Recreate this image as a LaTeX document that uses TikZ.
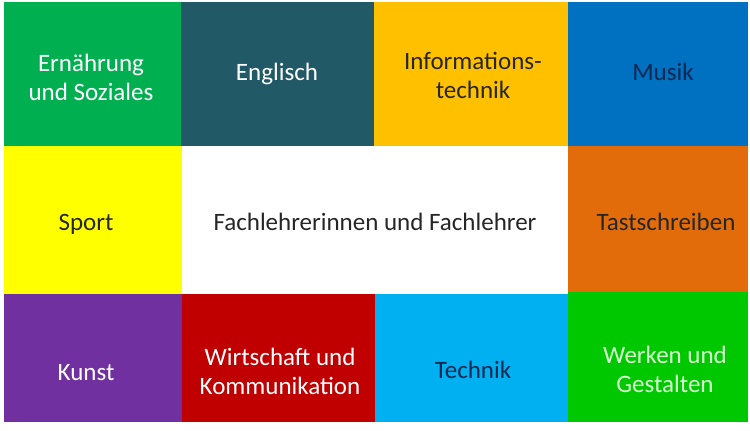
\documentclass[tikz,border=0pt]{standalone}
\usepackage{fontspec}
\setmainfont{Carlito}
\definecolor{ernGreen}{HTML}{00B050}
\definecolor{engTeal}{HTML}{215967}
\definecolor{infoGold}{HTML}{FFC000}
\definecolor{musBlue}{HTML}{0070C0}
\definecolor{sportYellow}{HTML}{FFFF00}
\definecolor{tastOrange}{HTML}{E36C0A}
\definecolor{kunstPurple}{HTML}{7030A0}
\definecolor{wirtRed}{HTML}{C00000}
\definecolor{techCyan}{HTML}{00B0F0}
\definecolor{werkGreen}{HTML}{00C800}
\definecolor{darkNavy}{HTML}{0A2850}
\definecolor{paleGreen}{HTML}{D8FFD0}
\tikzset{
  lbl/.style={align=center, font=\fontsize{25bp}{29bp}\selectfont, inner sep=0pt}
}
\begin{document}
\begin{tikzpicture}[x=1bp, y=-1bp]
    \useasboundingbox (0,0) rectangle (750,430);
    % top row
    \fill[ernGreen] (4,2) rectangle (181,146);
    \fill[engTeal] (181,2) rectangle (374,146);
    \fill[infoGold] (374,2) rectangle (568,146);
    \fill[musBlue] (568,2) rectangle (748,146);
    % middle row
    \fill[sportYellow] (4,146) rectangle (182,294);
    \fill[white] (182,146) rectangle (568,294);
    \fill[tastOrange] (568,146) rectangle (748,292);
    % bottom row
    \fill[kunstPurple] (4,294) rectangle (182,422);
    \fill[wirtRed] (182,294) rectangle (375,422);
    \fill[techCyan] (375,294) rectangle (568,422);
    \fill[werkGreen] (568,292) rectangle (748,422);
    % labels
    \node[lbl, text=white] (ern) at (91,77) {Ernährung\\und Soziales};
    \node[lbl, text=white] (eng) at (277,74) {Englisch};
    \node[lbl, text=black!85] (info) at (473,75) {Informations-\\technik};
    \node[lbl, text=darkNavy] (mus) at (663,72) {Musik};
    \node[lbl, text=black!85] (sport) at (86,224) {Sport};
    \node[lbl, text=black!85] (fach) at (375,222) {Fachlehrerinnen und Fachlehrer};
    \node[lbl, text=black!85] (tast) at (666,222) {Tastschreiben};
    \node[lbl, text=white] (kunst) at (86,373) {Kunst};
    \node[lbl, text=white] (wirt) at (280,371) {Wirtschaft und\\Kommunikation};
    \node[lbl, text=darkNavy] (tech) at (473,370) {Technik};
    \node[lbl, text=paleGreen] (werk) at (665,369) {Werken und\\Gestalten};
\end{tikzpicture}
\end{document}
